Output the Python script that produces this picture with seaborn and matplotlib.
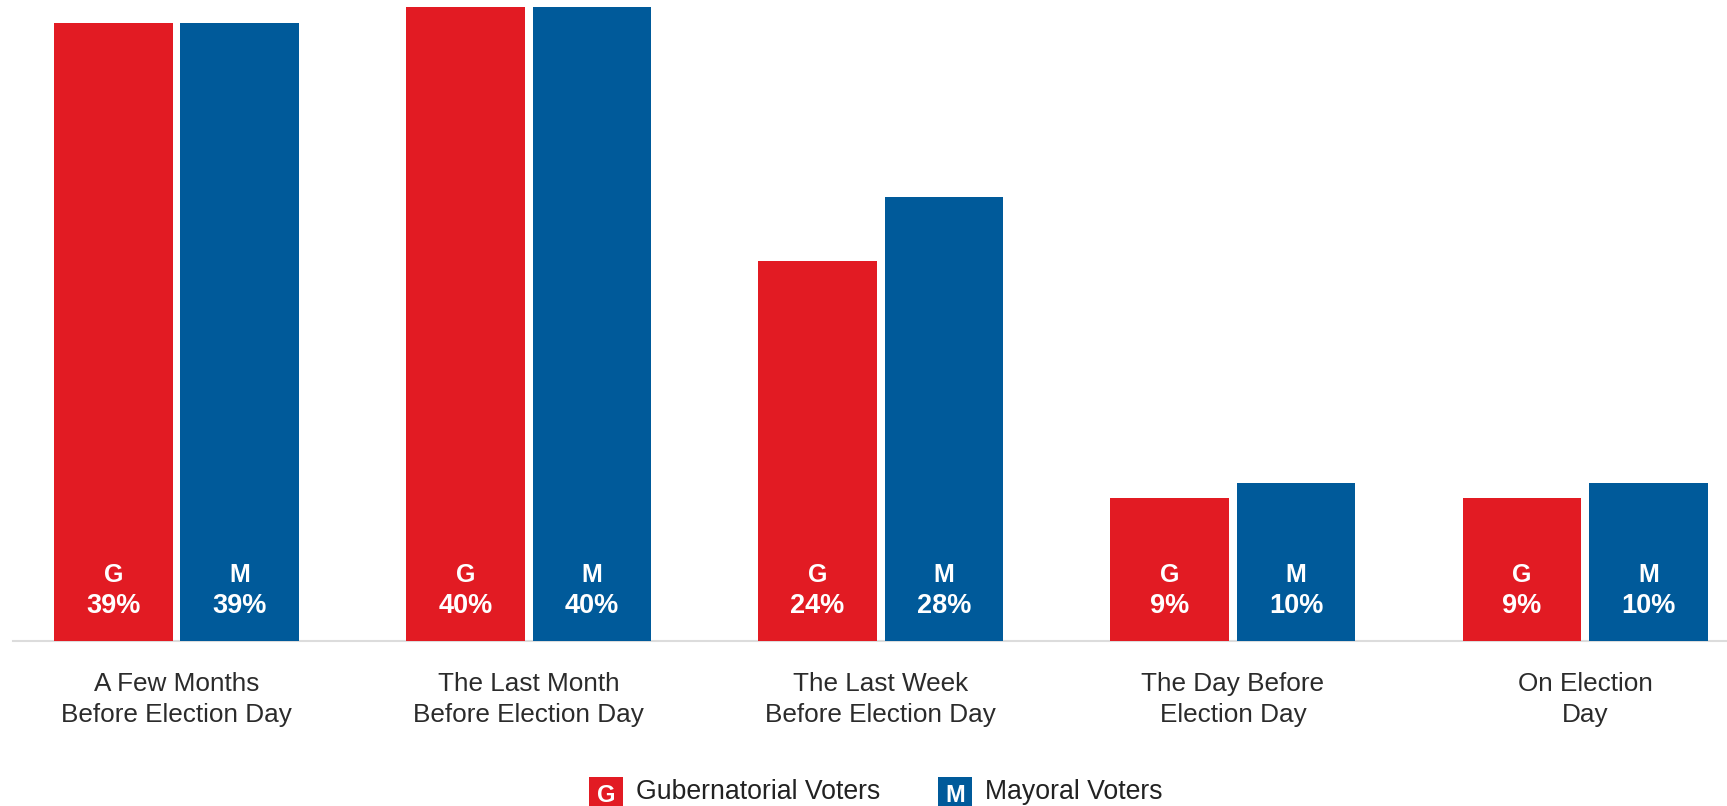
import matplotlib
matplotlib.use("Agg")
import matplotlib.pyplot as plt
from matplotlib.patches import Rectangle
import numpy as np
import pandas as pd
import seaborn as sns

# Survey: when voters made up their minds
periods = [
    "A Few Months\nBefore Election Day",
    "The Last Month\nBefore Election Day",
    "The Last Week\nBefore Election Day",
    "The Day Before\nElection Day",
    "On Election\nDay",
]
gubernatorial = [39, 40, 24, 9, 9]
mayoral = [39, 40, 28, 10, 10]
groups = ["Gubernatorial Voters", "Mayoral Voters"]
letters = ["G", "M"]
colors = ["#E21B23", "#005A9A"]

df = pd.DataFrame({
    "period": periods * 2,
    "share": gubernatorial + mayoral,
    "voters": [groups[0]] * len(periods) + [groups[1]] * len(periods),
})

sns.set_theme(style="white")
plt.rcParams["font.family"] = ["Liberation Sans", "DejaVu Sans"]

W, H = 1727, 806
fig = plt.figure(figsize=(W / 100, H / 100), dpi=100)
ax = fig.add_axes([13 / W, (H - 641) / H, (W - 13) / W, 641 / H])

sns.barplot(
    data=df, x="period", y="share", hue="voters", order=periods,
    hue_order=groups, palette=colors, saturation=1, width=0.7186, gap=0.063,
    legend=False, ax=ax, linewidth=0, edgecolor="none", errorbar=None,
)

ax.set_xlim(-0.4643, 4.403)
ax.set_ylim(0, 641 / 15.85)

for s in ["top", "right", "left"]:
    ax.spines[s].set_visible(False)
ax.spines["bottom"].set_color("#dcdcdc")
ax.spines["bottom"].set_linewidth(1.5)
ax.spines["bottom"].set_zorder(0)
ax.set_yticks([])
ax.set_xlabel("")
ax.set_ylabel("")
ax.tick_params(axis="x", length=0, pad=22.5, labelsize=18.8, labelcolor="#2b2b2b")
for lab in ax.get_xticklabels():
    lab.set_linespacing(1.34)

# Letter + value printed at the foot of every bar
for container, letter in zip(ax.containers, letters):
    for bar, val in zip(container, container.datavalues):
        cx = bar.get_x() + bar.get_width() / 2
        ax.annotate(letter, (cx, 0), xytext=(0, 42.5), textcoords="offset points",
                    ha="center", va="baseline", color="white",
                    fontsize=18, fontweight="bold")
        ax.annotate(f"{val:.0f}%", (cx, 0), xytext=(0, 20.2), textcoords="offset points",
                    ha="center", va="baseline", color="white",
                    fontsize=19.5, fontweight="bold")

# Legend row along the bottom edge
legend_x = [589, 938]
for x0, letter, name, col in zip(legend_x, letters, groups, colors):
    fig.add_artist(Rectangle((x0 / W, -8 / H), 34 / W, 37 / H,
                             transform=fig.transFigure, facecolor=col,
                             edgecolor="none"))
    fig.text((x0 + 17) / W, 4 / H, letter, ha="center", va="baseline",
             color="white", fontsize=17, fontweight="bold")
    fig.text((x0 + 47) / W, 7 / H, name, ha="left", va="baseline",
             color="#222222", fontsize=19.2)

fig.savefig("out.png", dpi=100, facecolor="white")
